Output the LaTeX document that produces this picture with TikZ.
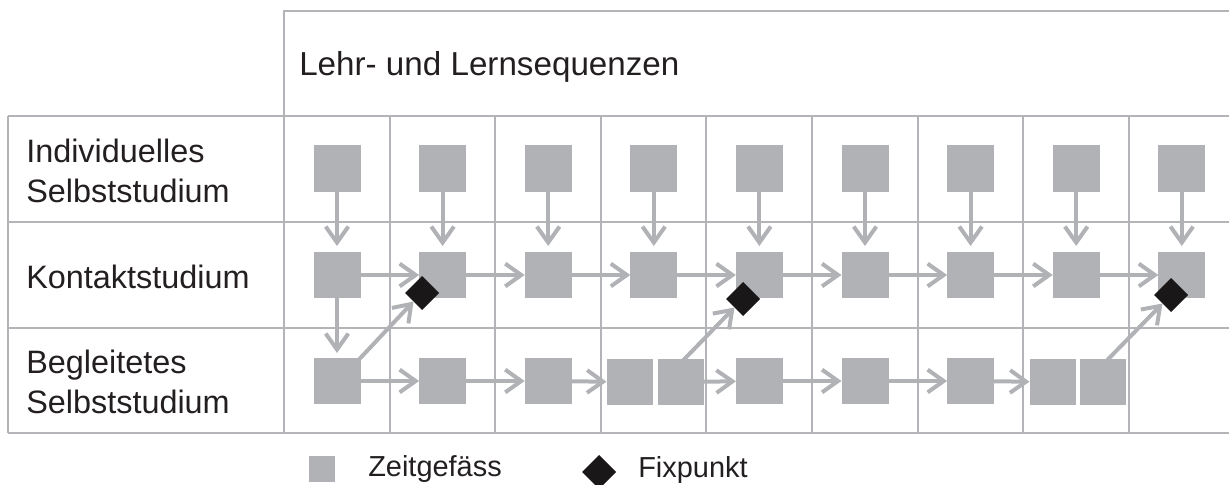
\documentclass[tikz,border=0pt]{standalone}
\usepackage{fontspec}
\setmainfont{Liberation Sans}
\usetikzlibrary{arrows.meta,shapes.geometric}
\definecolor{gridc}{HTML}{B4B4B8}
\definecolor{boxc}{HTML}{B1B2B6}
\definecolor{inkc}{HTML}{231F20}
\definecolor{fixc}{HTML}{1A1718}
\begin{document}
\begin{tikzpicture}[x=0.75pt,y=-0.75pt,
  gridline/.style={draw=gridc, line width=1.5pt},
  zg/.style={fill=boxc, draw=none, minimum width=35.25pt, minimum height=34.5pt, inner sep=0pt, outer sep=0pt},
  zgs/.style={zg, minimum width=34.5pt},
  fp/.style={diamond, fill=fixc, draw=none, minimum width=25.5pt, minimum height=25.5pt, inner sep=0pt, outer sep=0pt},
  flow/.style={draw=boxc, line width=3pt, -{Straight Barb[length=12pt,width=17pt]}},
  lbl/.style={anchor=base west, inner sep=0pt, text=inkc, font=\fontsize{24.3}{28}\selectfont},
  leg/.style={anchor=base west, inner sep=0pt, text=inkc, font=\fontsize{21.7}{26}\selectfont},
]
\useasboundingbox (0,0) rectangle (1229,485);
% grid
\draw[gridline] (284,433) -- (284,11) -- (1229,11);
\foreach \yy in {116,222,328,433}{\draw[gridline] (8,\yy) -- (1229,\yy);}
\draw[gridline] (8,116) -- (8,433);
\foreach \k in {1,...,8}{\pgfmathsetmacro\xx{284+105.6*\k}\draw[gridline] (\xx,116) -- (\xx,433);}
% texts
\node[lbl, font=\fontsize{24.9}{28}\selectfont] (head) at (299,76) {Lehr- und Lernsequenzen};
\node[lbl] (l1a) at (26,162) {Individuelles};
\node[lbl] (l1b) at (26,202) {Selbststudium};
\node[lbl] (l2) at (26,288) {Kontaktstudium};
\node[lbl] (l3a) at (26,373) {Begleitetes};
\node[lbl] (l3b) at (26,413) {Selbststudium};
% rows 1 and 2
\foreach \i in {1,...,9}{
  \pgfmathsetmacro\cx{337+105.6*(\i-1)}
  \node[zg] (a\i) at (\cx,168.5) {};
  \node[zg] (b\i) at (\cx,275) {};
  \draw[flow, shorten >=4.5pt] (a\i) -- (b\i);
}
\foreach \i/\j in {1/2,2/3,3/4,4/5,5/6,6/7,7/8,8/9}{\draw[flow] (b\i) -- (b\j);}
% row 3
\node[zg] (c1) at (337,381) {};
\node[zg] (c2) at (442.6,381) {};
\node[zg] (c3) at (548.2,381) {};
\node[zgs] (c4a) at (629.5,382) {};
\node[zgs] (c4b) at (680.5,382) {};
\node[zg] (c5) at (759.4,381) {};
\node[zg] (c6) at (865,381) {};
\node[zg] (c7) at (970.6,381) {};
\node[zgs] (c8a) at (1052.5,382) {};
\node[zgs] (c8b) at (1103,382) {};
\foreach \p/\q in {c1/c2,c2/c3,c3/c4a,c4b/c5,c5/c6,c6/c7,c7/c8a}{\draw[flow] (\p) -- (\q);}
\draw[flow, shorten >=3.75pt] (b1) -- (c1);
% fixpoints
\node[fp] (d1) at (422,293) {};
\node[fp] (d2) at (743,299) {};
\node[fp] (d3) at (1171,295) {};
\draw[flow] ([xshift=-1.5pt,yshift=-1.5pt]c1.north east) -- (d1.south west);
\draw[flow] ([xshift=2pt,yshift=-1pt]c4b.north) -- (d2.south west);
\draw[flow] ([xshift=3pt,yshift=-1pt]c8b.north) -- (d3.south west);
% legend
\node[zg, minimum width=19.5pt, minimum height=19.5pt] (lz) at (322,469) {};
\node[leg] (lzt) at (368,476) {Zeitgefäss};
\node[fp] (lf) at (599,472) {};
\node[leg] (lft) at (638,477) {Fixpunkt};
\end{tikzpicture}
\end{document}
